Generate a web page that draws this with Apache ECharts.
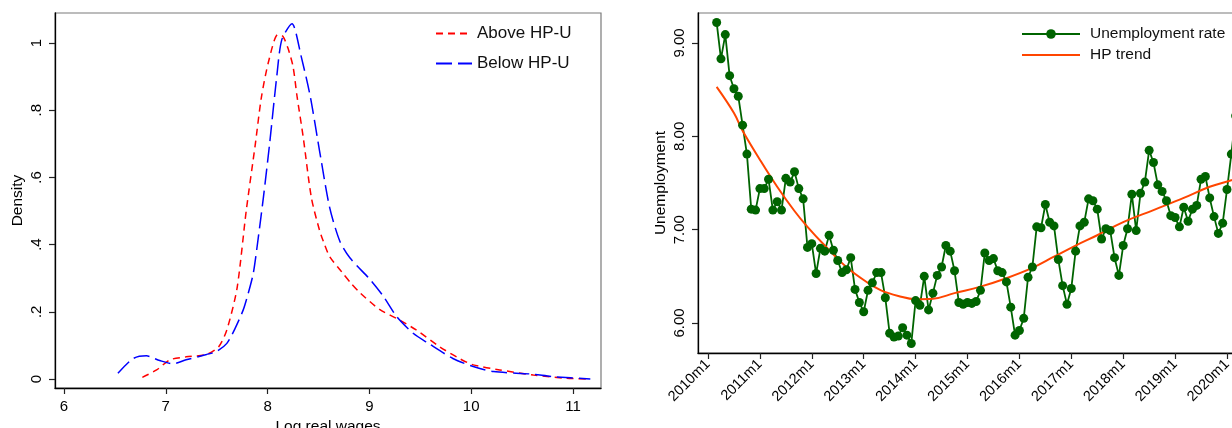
<!DOCTYPE html>
<html><head><meta charset="utf-8">
<script src="https://cdn.jsdelivr.net/npm/echarts@6/dist/echarts.min.js"></script>
<style>html,body{margin:0;padding:0;background:#fff}#c{width:1232px;height:428px}</style>
</head><body><div id="c"></div>
<script>
// ---------- Left panel: kernel densities of log real wages ----------
const aboveX = [6.77,6.91,7.04,7.20,7.40,7.52,7.60,7.70,7.79,7.88,7.94,8.01,8.10,8.15,8.20,8.25,8.29,8.35,8.43,8.51,8.56,8.61,8.73,8.82,8.91,9.10,9.27,9.46,9.69,9.89,10.02,10.28,10.61,10.94,11.17];
const aboveY = [0.005,0.027,0.057,0.066,0.073,0.096,0.146,0.270,0.50,0.70,0.84,0.945,1.025,1.02,0.985,0.93,0.84,0.72,0.54,0.443,0.40,0.364,0.318,0.285,0.256,0.207,0.180,0.146,0.096,0.060,0.042,0.027,0.012,0.002,0.000];
const belowX = [6.53,6.68,6.81,6.94,7.07,7.20,7.40,7.50,7.60,7.68,7.76,7.81,7.86,7.91,7.96,8.02,8.09,8.14,8.24,8.33,8.42,8.51,8.61,8.71,8.81,9.01,9.14,9.27,9.43,9.58,9.82,10.02,10.22,10.58,10.81,11.17];
const belowY = [0.017,0.061,0.069,0.055,0.045,0.057,0.073,0.082,0.106,0.150,0.205,0.255,0.315,0.424,0.543,0.70,0.90,1.01,1.057,0.96,0.84,0.68,0.51,0.41,0.36,0.295,0.245,0.185,0.136,0.106,0.061,0.037,0.022,0.015,0.007,0.000];
const wageTicks = [6,7,8,9,10,11];
const densityTicks = [0,0.2,0.4,0.6,0.8,1];
const densityTickLabels = ['0','.2','.4','.6','.8','1'];

// ---------- Right panel: unemployment rate and HP trend ----------
const unempMonths = [
 '2010m3','2010m4','2010m5','2010m6','2010m7','2010m8','2010m9','2010m10','2010m11','2010m12',
 '2011m1','2011m2','2011m3','2011m4','2011m5','2011m6','2011m7','2011m8','2011m9','2011m10','2011m11','2011m12',
 '2012m1','2012m2','2012m3','2012m4','2012m5','2012m6','2012m7','2012m8','2012m9','2012m10','2012m11','2012m12',
 '2013m1','2013m2','2013m3','2013m4','2013m5','2013m6','2013m7','2013m8','2013m9','2013m10','2013m11','2013m12',
 '2014m1','2014m2','2014m3','2014m4','2014m5','2014m6','2014m7','2014m8','2014m9','2014m10','2014m11','2014m12',
 '2015m1','2015m2','2015m3','2015m4','2015m5','2015m6','2015m7','2015m8','2015m9','2015m10','2015m11','2015m12',
 '2016m1','2016m2','2016m3','2016m4','2016m5','2016m6','2016m7','2016m8','2016m9','2016m10','2016m11','2016m12',
 '2017m1','2017m2','2017m3','2017m4','2017m5','2017m6','2017m7','2017m8','2017m9','2017m10','2017m11','2017m12',
 '2018m1','2018m2','2018m3','2018m4','2018m5','2018m6','2018m7','2018m8','2018m9','2018m10','2018m11','2018m12',
 '2019m1','2019m2','2019m3','2019m4','2019m5','2019m6','2019m7','2019m8','2019m9','2019m10','2019m11','2019m12',
 '2020m1','2020m2','2020m3'];
const unempRate = [
 9.22,8.83,9.09,8.65,8.51,8.43,8.12,7.81,7.22,7.21,
 7.44,7.44,7.54,7.21,7.30,7.21,7.55,7.51,7.62,7.44,7.33,6.81,
 6.85,6.53,6.80,6.77,6.94,6.78,6.67,6.54,6.57,6.70,6.36,6.22,
 6.12,6.35,6.43,6.54,6.54,6.27,5.89,5.85,5.86,5.95,5.87,5.78,
 6.24,6.19,6.50,6.14,6.32,6.51,6.60,6.83,6.77,6.56,6.22,6.20,
 6.22,6.21,6.23,6.35,6.75,6.67,6.69,6.56,6.54,6.44,6.17,5.87,
 5.92,6.05,6.49,6.60,7.03,7.02,7.27,7.08,7.04,6.68,6.40,6.20,
 6.37,6.77,7.04,7.08,7.33,7.31,7.22,6.90,7.01,6.99,6.70,6.51,
 6.83,7.01,7.38,6.99,7.39,7.51,7.85,7.72,7.48,7.41,7.31,7.15,
 7.13,7.03,7.24,7.09,7.22,7.26,7.54,7.57,7.34,7.14,6.96,7.07,
 7.43,7.81,8.22];
const hpMonths = ['2010m3','2010m7','2010m9','2011m1','2011m5','2011m9','2011m12','2012m4','2012m9','2013m2','2013m5','2013m9','2014m1','2014m5','2014m10','2015m4','2015m10','2016m4','2016m9','2017m2','2017m7','2018m1','2018m8','2019m3','2019m9','2020m2','2020m3'];
const hpTrend  = [8.53,8.25,8.06,7.75,7.46,7.20,7.03,6.83,6.60,6.43,6.35,6.29,6.255,6.26,6.32,6.39,6.48,6.59,6.71,6.83,6.94,7.08,7.21,7.34,7.46,7.53,7.55];
const monthTickLabels = ['2010m1','2011m1','2012m1','2013m1','2014m1','2015m1','2016m1','2017m1','2018m1','2019m1','2020m1'];
const unempTicks = [6,7,8,9];
const unempTickLabels = ['6.00','7.00','8.00','9.00'];

function monthIndex(s){ const p = s.split('m'); return (parseInt(p[0],10)-2010)*12 + parseInt(p[1],10) - 1; }
const zip = (xs, ys) => xs.map((x,i)=>[x, ys[i]]);

const FONT = 'Liberation Sans, Arial, Helvetica, sans-serif';
const monthTicks = monthTickLabels.map(monthIndex);

const chart = echarts.init(document.getElementById('c'), null, {renderer:'canvas'});
const axisLineStyle = {color:'#000', width:1.3};
const tickStyle = {color:'#222', width:1.2};

chart.setOption({
  animation:false,
  backgroundColor:'#fff',
  textStyle:{fontFamily:FONT},
  grid:[
    {left:55, top:13, width:546, height:375, outerBoundsMode:'none', containLabel:false, show:true, borderColor:'#7a7a7a', borderWidth:1.2, backgroundColor:'transparent'},
    {left:698, top:13, width:563.6, height:340, outerBoundsMode:'none', containLabel:false, show:true, borderColor:'#7a7a7a', borderWidth:1.2, backgroundColor:'transparent'}
  ],
  legend:[
    {orient:'vertical', left:435, top:25, padding:0, itemWidth:36, itemHeight:17, itemGap:13,
     data:['Above HP-U','Below HP-U'], itemStyle:{opacity:0},
     textStyle:{fontFamily:FONT, fontSize:17, color:'#111', lineHeight:17}},
    {orient:'vertical', left:1021, top:26, padding:0, itemWidth:58, itemHeight:12, itemGap:5,
     data:[{name:'Unemployment rate'},{name:'HP trend', itemStyle:{opacity:0}}],
     textStyle:{fontFamily:FONT, fontSize:15.5, color:'#111', lineHeight:16, padding:[0,0,0,5]}}
  ],
  xAxis:[
    {type:'value', gridIndex:0, min:5.912, max:11.275,
     name:'Log real wages', nameLocation:'middle', nameGap:27,
     nameTextStyle:{fontFamily:FONT, fontSize:15.5, color:'#000'},
     axisLine:{show:true, onZero:false, lineStyle:axisLineStyle},
     axisTick:{show:true, length:6, lineStyle:tickStyle, customValues:wageTicks},
     axisLabel:{show:true, fontFamily:FONT, fontSize:15, color:'#000', margin:11, customValues:wageTicks,
       formatter:v=>String(Math.round(v))},
     splitLine:{show:false}},
    {type:'value', gridIndex:1, min:-2.31, max:128,
     axisLine:{show:true, onZero:false, lineStyle:axisLineStyle},
     axisTick:{show:true, length:6, lineStyle:tickStyle, customValues:monthTicks},
     axisLabel:{show:true, fontFamily:FONT, fontSize:14.5, color:'#000', margin:9, rotate:45, customValues:monthTicks,
       formatter:v=>monthTickLabels[monthTicks.indexOf(Math.round(v))] || ''},
     splitLine:{show:false}}
  ],
  yAxis:[
    {type:'value', gridIndex:0, min:-0.0268, max:1.0893,
     name:'Density', nameLocation:'middle', nameGap:29, nameRotate:90,
     nameTextStyle:{fontFamily:FONT, fontSize:15.5, color:'#000'},
     axisLine:{show:true, onZero:false, lineStyle:axisLineStyle},
     axisTick:{show:true, length:6, lineStyle:tickStyle, customValues:densityTicks},
     axisLabel:{show:true, fontFamily:FONT, fontSize:15, color:'#000', margin:11, rotate:90, customValues:densityTicks,
       formatter:v=>densityTickLabels[Math.round(v*5)]},
     splitLine:{show:false}},
    {type:'value', gridIndex:1, min:5.6786, max:9.3214,
     name:'Unemployment', nameLocation:'middle', nameGap:29, nameRotate:90,
     nameTextStyle:{fontFamily:FONT, fontSize:15.5, color:'#000'},
     axisLine:{show:true, onZero:false, lineStyle:axisLineStyle},
     axisTick:{show:true, length:6, lineStyle:tickStyle, customValues:unempTicks},
     axisLabel:{show:true, fontFamily:FONT, fontSize:15, color:'#000', margin:11, rotate:90, customValues:unempTicks,
       formatter:v=>unempTickLabels[unempTicks.indexOf(Math.round(v))]},
     splitLine:{show:false}}
  ],
  series:[
    {name:'Above HP-U', type:'line', xAxisIndex:0, yAxisIndex:0, data:zip(aboveX, aboveY),
     showSymbol:false, symbol:'none', smooth:0.25, color:'#ff0000',
     lineStyle:{color:'#ff0000', width:1.5, type:[7,5]}},
    {name:'Below HP-U', type:'line', xAxisIndex:0, yAxisIndex:0, data:zip(belowX, belowY),
     showSymbol:false, symbol:'none', smooth:0.25, color:'#0000ff',
     lineStyle:{color:'#0000ff', width:1.5, type:[16,6]}},
    {name:'Unemployment rate', type:'line', xAxisIndex:1, yAxisIndex:1,
     data:unempMonths.map((m,i)=>[monthIndex(m), unempRate[i]]),
     symbol:'circle', symbolSize:9, showSymbol:true, color:'#006400',
     itemStyle:{color:'#006400'}, lineStyle:{color:'#006400', width:1.8}},
    {name:'HP trend', type:'line', xAxisIndex:1, yAxisIndex:1,
     data:hpMonths.map((m,i)=>[monthIndex(m), hpTrend[i]]),
     showSymbol:false, symbol:'none', smooth:0.4, color:'#ff4500',
     lineStyle:{color:'#ff4500', width:2}}
  ]
});
</script></body></html>
